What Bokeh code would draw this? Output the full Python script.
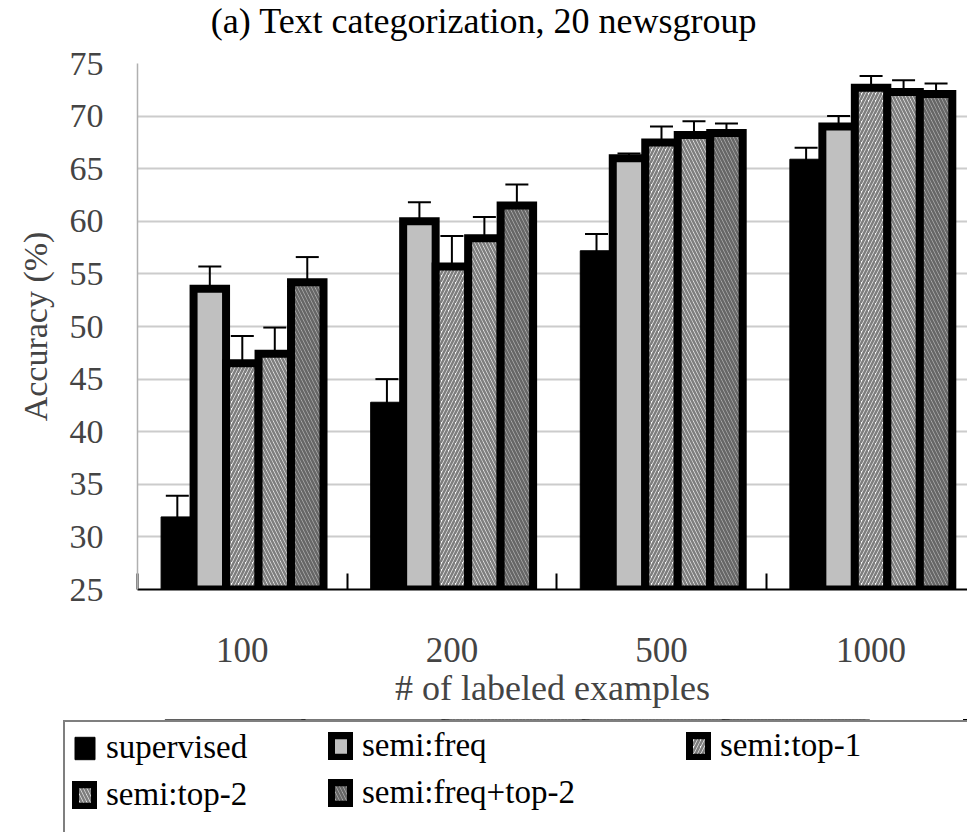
from bokeh.plotting import figure
from bokeh.layouts import column
from bokeh.models import (Range1d, FixedTicker, Whisker, ColumnDataSource, Legend,
                          LegendItem, Grid, TeeHead, Title)
from bokeh.embed import file_html
from bokeh.resources import INLINE

# ---- data ----
title_text = "(a) Text categorization, 20 newsgroup"
groups = ["100", "200", "500", "1000"]
series = ["supervised", "semi:freq", "semi:top-1", "semi:top-2", "semi:freq+top-2"]
supervised = [31.9, 42.8, 57.2, 65.9]
supervised_err = [2.0, 2.2, 1.6, 1.1]
semi_freq = [53.6, 60.0, 66.0, 69.0]
semi_freq_err = [2.1, 1.8, 0.45, 1.0]
semi_top1 = [46.5, 55.7, 67.5, 72.7]
semi_top1_err = [2.6, 2.9, 1.5, 1.1]
semi_top2 = [47.4, 58.4, 68.2, 72.3]
semi_top2_err = [2.5, 2.0, 1.3, 1.1]
semi_freq_top2 = [54.2, 61.5, 68.4, 72.1]
semi_freq_top2_err = [2.4, 2.0, 0.9, 1.0]
y_ticks = [25, 30, 35, 40, 45, 50, 55, 60, 65, 70, 75]

values = [supervised, semi_freq, semi_top1, semi_top2, semi_freq_top2]
errors = [supervised_err, semi_freq_err, semi_top1_err, semi_top2_err, semi_freq_top2_err]

FONT = "Liberation Serif"

styles = [
    dict(fill_color="black", line_color="black", line_width=1),
    dict(fill_color="#c0c0c0", line_color="black", line_width=8),
    dict(fill_color="white", line_color="black", line_width=8,
         hatch_pattern="/", hatch_color="#7e7e7e", hatch_scale=7, hatch_weight=2.6),
    dict(fill_color="white", line_color="black", line_width=8,
         hatch_pattern="\\", hatch_color="#7e7e7e", hatch_scale=7, hatch_weight=2.6),
    dict(fill_color="#c0c0c0", line_color="black", line_width=8,
         hatch_pattern="\\", hatch_color="#666666", hatch_scale=7, hatch_weight=2.6),
]


def bare(fig):
    fig.frame_align = False
    fig.min_border_left = 0
    fig.min_border_right = 0
    fig.min_border_top = 0
    fig.min_border_bottom = 0
    fig.outline_line_color = None
    fig.xgrid.visible = False
    fig.ygrid.visible = False


# ---- title strip ----
tf = figure(width=967, height=44, output_backend="svg", toolbar_location=None,
            x_axis_location=None, y_axis_location=None,
            x_range=Range1d(0, 1), y_range=Range1d(0, 1))
bare(tf)
tf.title = Title(text=title_text, align="center", vertical_align="top", standoff=0,
                 text_font=FONT, text_font_size="36px", text_font_style="normal",
                 text_color="black")

# ---- main chart ----
p = figure(width=967, height=675, output_backend="svg", toolbar_location=None,
           x_range=Range1d(0, 3.96), y_range=Range1d(25, 75))
p.frame_align = False
p.min_border_left = 137
p.min_border_right = 0
p.min_border_top = 19
p.min_border_bottom = 130
p.outline_line_color = None
p.background_fill_color = "white"

centers = [i + 0.5 for i in range(len(groups))]
xa = p.xaxis[0]
xa.ticker = FixedTicker(ticks=centers, minor_ticks=list(range(len(groups) + 1)))
xa.major_label_overrides = {c: g for c, g in zip(centers, groups)}
xa.major_tick_in = 0
xa.major_tick_out = 0
xa.minor_tick_in = 16
xa.minor_tick_out = 0
xa.minor_tick_line_color = "black"
xa.minor_tick_line_width = 2
xa.axis_line_color = "black"
xa.axis_line_width = 2
xa.major_label_text_font = FONT
xa.major_label_text_font_size = "35px"
xa.major_label_standoff = 48
xa.axis_label = "# of labeled examples"
xa.axis_label_text_font = FONT
xa.axis_label_text_font_size = "36px"
xa.axis_label_text_font_style = "normal"
xa.axis_label_standoff = 3

ya = p.yaxis[0]
ya.ticker = FixedTicker(ticks=y_ticks)
ya.major_tick_in = 0
ya.major_tick_out = 0
ya.minor_tick_line_color = None
ya.axis_line_color = "#b0b0b0"
ya.axis_line_width = 1.5
ya.major_label_text_font = FONT
ya.major_label_text_font_size = "34px"
ya.major_label_standoff = 34
ya.axis_label = "Accuracy (%)"
ya.axis_label_text_font = FONT
ya.axis_label_text_font_size = "34px"
ya.axis_label_text_font_style = "normal"
ya.axis_label_standoff = 13

p.xgrid.visible = False
p.ygrid.ticker = FixedTicker(ticks=y_ticks[:-1])
p.ygrid.grid_line_color = "#cccccc"
p.ygrid.grid_line_width = 2
top_grid = Grid(dimension=1, ticker=FixedTicker(ticks=y_ticks[-1:]),
                grid_line_color="#999999", grid_line_width=2)
p.add_layout(top_grid)

bar_w = 0.155
sources = []
for k, (name, vals, st) in enumerate(zip(series, values, styles)):
    xs = [c + (k - 2) * bar_w for c in centers]
    src = ColumnDataSource(dict(x=xs, top=vals))
    sources.append(src)
    p.vbar(x="x", top="top", bottom=25, width=bar_w, source=src,
           line_join="miter", **st)

for k, (vals, errs) in enumerate(zip(values, errors)):
    xs = [c + (k - 2) * bar_w for c in centers]
    src = ColumnDataSource(dict(x=xs,
                                upper=[v + e for v, e in zip(vals, errs)],
                                lower=[v - e for v, e in zip(vals, errs)]))
    w = Whisker(base="x", upper="upper", lower="lower", source=src,
                line_color="black", line_width=2,
                upper_head=TeeHead(size=23, line_color="black", line_width=2),
                lower_head=TeeHead(size=23, line_color="black", line_width=2))
    p.add_layout(w)

# ---- legend panel (its ranges keep the swatch renderers' bars out of view) ----
lg = figure(width=967, height=113, output_backend="svg", toolbar_location=None,
            x_axis_location=None, y_axis_location=None,
            x_range=Range1d(0, 1), y_range=Range1d(0, 1))
bare(lg)
lg.min_border_left = 63

swatches = [lg.vbar(x="x", top="top", bottom=25, width=bar_w, source=src,
                    line_join="miter", **st) for src, st in zip(sources, styles)]
dummy = lg.vbar(x="x", top="top", bottom=25, width=bar_w, source=sources[0],
                fill_alpha=0, line_alpha=0)

leg_common = dict(orientation="vertical", glyph_width=25, glyph_height=28,
                  label_standoff=9, padding=7, spacing=10,
                  label_text_font=FONT, label_text_font_size="33px",
                  label_text_font_style="normal",
                  label_text_color="black", margin=0)

legA = Legend(items=[LegendItem(label=series[0], renderers=[swatches[0]]),
                     LegendItem(label=series[3], renderers=[swatches[3]]),
                     LegendItem(label=" ", renderers=[dummy])],
              location=(0, -28), label_width=950,
              border_line_color="black", border_line_width=2,
              background_fill_color="white", background_fill_alpha=1, **leg_common)
legB = Legend(items=[LegendItem(label=series[1], renderers=[swatches[1]]),
                     LegendItem(label=series[4], renderers=[swatches[4]])],
              location=(265, 21),
              border_line_color=None, background_fill_alpha=0, **leg_common)
legC = Legend(items=[LegendItem(label=series[2], renderers=[swatches[2]])],
              location=(623, 68),
              border_line_color=None, background_fill_alpha=0, **leg_common)
lg.add_layout(legA)
lg.add_layout(legB)
lg.add_layout(legC)

layout = column(tf, p, lg, spacing=0)
open("out.html", "w").write(file_html(layout, INLINE))
